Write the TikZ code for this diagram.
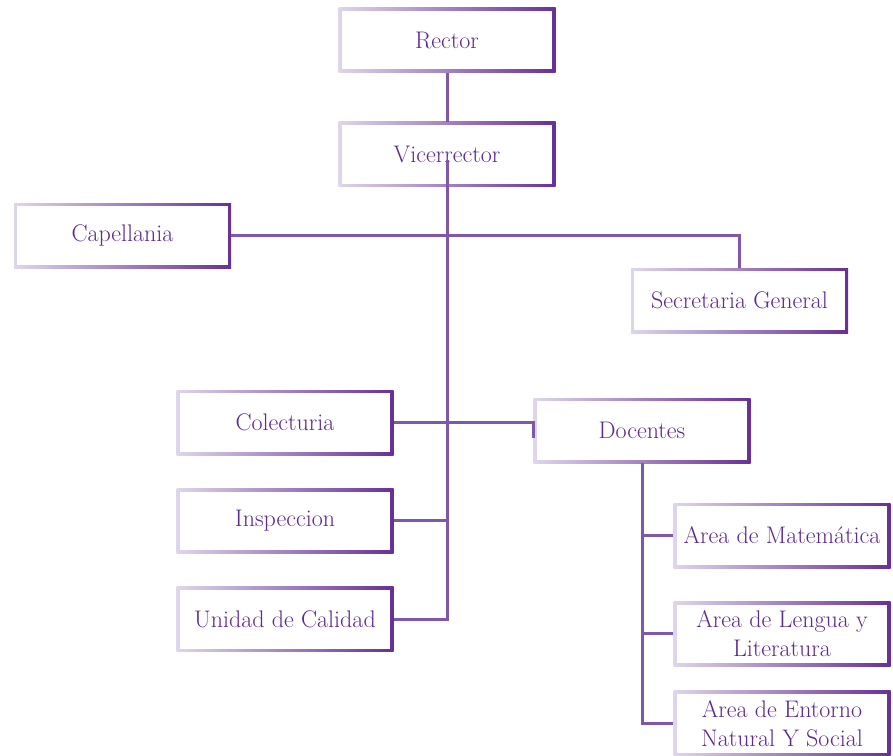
\documentclass[tikz,border=0pt]{standalone}
\usepackage{tikz}
\usetikzlibrary{calc,positioning}

\definecolor{lineviolet}{RGB}{128,88,170}
\definecolor{boxlight}{RGB}{222,214,234}
\definecolor{boxdark}{RGB}{104,48,150}
\definecolor{textviolet}{RGB}{92,42,138}

\tikzset{
  orgbox/.style={rectangle, minimum width=217pt, minimum height=65pt, inner sep=0pt,
    left color=boxlight, right color=boxdark, text=textviolet, align=center,
    font=\fontsize{24}{29}\selectfont,
    path picture={\fill[white] ($(path picture bounding box.south west)+(3.2pt,3.2pt)$)
      rectangle ($(path picture bounding box.north east)-(3.2pt,3.2pt)$);}},
  link/.style={draw=lineviolet, line width=3pt}
}

\begin{document}
\begin{tikzpicture}[x=1pt, y=-1pt]
			\useasboundingbox (0,0) rectangle (893,755);
			
			\node[orgbox] (rector) at (447,40) {Rector};
			\node[orgbox, below=49pt of rector] (vice) {Vicerrector};
			
			\node[orgbox] (capellania) at (122.5,235.5) {Capellania};
			\node[orgbox] (secretaria) at (739.5,300.5) {Secretaria General};
			
			\node[orgbox] (colecturia) at (285,422.5) {Colecturia};
			\node[orgbox, below=33pt of colecturia] (inspeccion) {Inspeccion};
			\node[orgbox, below=33pt of inspeccion] (unidad) {Unidad de Calidad};
			
			\node[orgbox] (docentes) at (642,430.5) {Docentes};
			\node[orgbox] (mate) at (782,535.5) {Area de Matemática};
			\node[orgbox, below=33pt of mate] (lengua) {Area de Lengua y\\Literatura};
			\node[orgbox, below=24pt of lengua] (entorno) {Area de Entorno\\Natural Y Social};
			
			\coordinate (trunk) at ($(vice.center)+(0,6)$);
			
			\draw[link] (rector) -- (vice);
			\draw[link] (trunk) |- (unidad.east);
			\draw[link] (inspeccion.east) -- (inspeccion.east -| trunk);
			\draw[link] (capellania.east) -| (secretaria.north);
			\draw[link] (colecturia.east) -- (colecturia.east -| docentes.west) -- ++(0,15);
			
			\draw[link] (docentes.south) |- (entorno.west);
			\draw[link] (mate.west) -- (mate.west -| docentes.south);
			\draw[link] (lengua.west) -- (lengua.west -| docentes.south);
		\end{tikzpicture}
\end{document}
